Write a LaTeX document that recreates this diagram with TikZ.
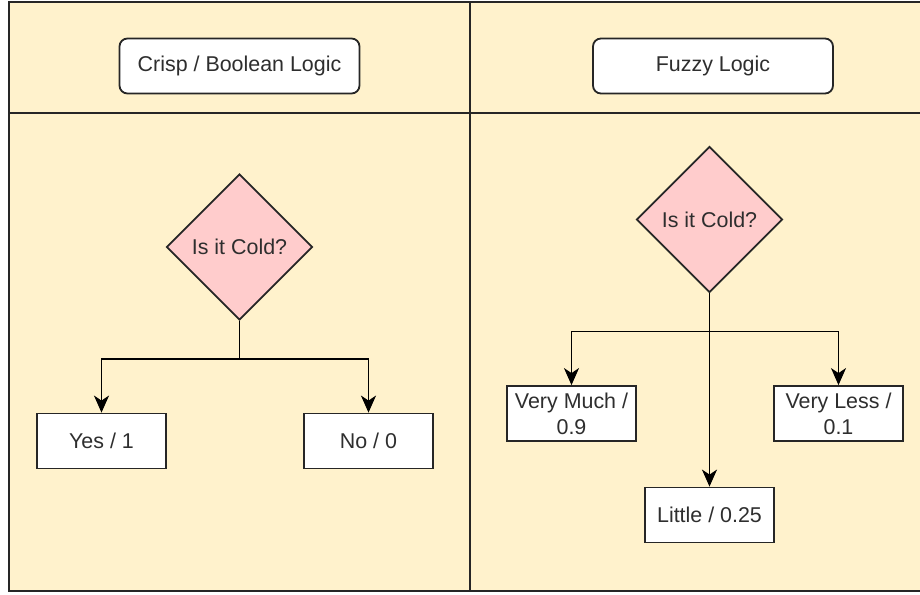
\documentclass[tikz,border=0pt]{standalone}
\usepackage{fontspec}
\setmainfont{Liberation Sans}
\usepackage{xcolor}
\usepackage{tikz}
\usetikzlibrary{arrows.meta,shapes.geometric}
\definecolor{lane}{HTML}{FFF2CC}
\definecolor{stroke}{HTML}{262626}
\definecolor{ink}{HTML}{2E2E2E}
\definecolor{rose}{HTML}{FFCCCC}
\tikzset{
  frame/.style={line width=2.4bp, draw=stroke},
  title/.style={rectangle, rounded corners=8bp, draw=stroke, line width=1.8bp, fill=white,
    minimum width=240bp, minimum height=55bp, text=ink},
  ask/.style={diamond, draw=stroke, line width=1.8bp, fill=rose, aspect=1,
    minimum width=146bp, minimum height=146bp, inner sep=0pt, text=ink},
  answer/.style={rectangle, draw=stroke, line width=1.8bp, fill=white, align=center,
    minimum width=129bp, minimum height=55bp, inner sep=3bp, text=ink},
  link/.style={-{Stealth[length=17bp,width=15bp,inset=5bp]}, line width=1.8bp, draw=black}
}

\begin{document}
\begin{tikzpicture}[x=1bp, y=-1bp, font=\fontsize{21.5}{26}\selectfont]
  \useasboundingbox (0,0) rectangle (920,595);
  \fill[white] (0,0) rectangle (920,595);
  \clip (0,0) rectangle (920,595);
  % the two lanes
  \fill[lane] (9,2) rectangle (930,591);
  \draw[frame] (9,2) rectangle (930,591);
  \draw[frame] (470,2) -- (470,591);
  \draw[frame] (9,113) -- (930,113);
  \node[title] (crisp) at (239.5,66) {Crisp / Boolean Logic};
  \node[title] (fuzzy) at (713,66) {Fuzzy Logic};
  % crisp side
  \node[ask] (coldA) at (239.5,247) {Is it Cold?};
  \node[answer] (yes) at (101.5,441) {Yes / 1};
  \node[answer] (no) at (368.5,441) {No / 0};
  \draw[link] (coldA.south) -- ++(0,38) -| (yes.north);
  \draw[link] (coldA.south) -- ++(0,38) -| (no.north);
  % fuzzy side
  \node[ask] (coldB) at (709.5,219.5) {Is it Cold?};
  \node[answer] (much) at (571.5,413.5) {Very Much /\\0.9};
  \node[answer] (less) at (838.5,413.5) {Very Less /\\0.1};
  \node[answer] (little) at (709.5,515) {Little / 0.25};
  \draw[link] (coldB.south) -- ++(0,38) -| (much.north);
  \draw[link] (coldB.south) -- ++(0,38) -| (less.north);
  \draw[link] (coldB.south) -- (little.north);
\end{tikzpicture}
\end{document}
